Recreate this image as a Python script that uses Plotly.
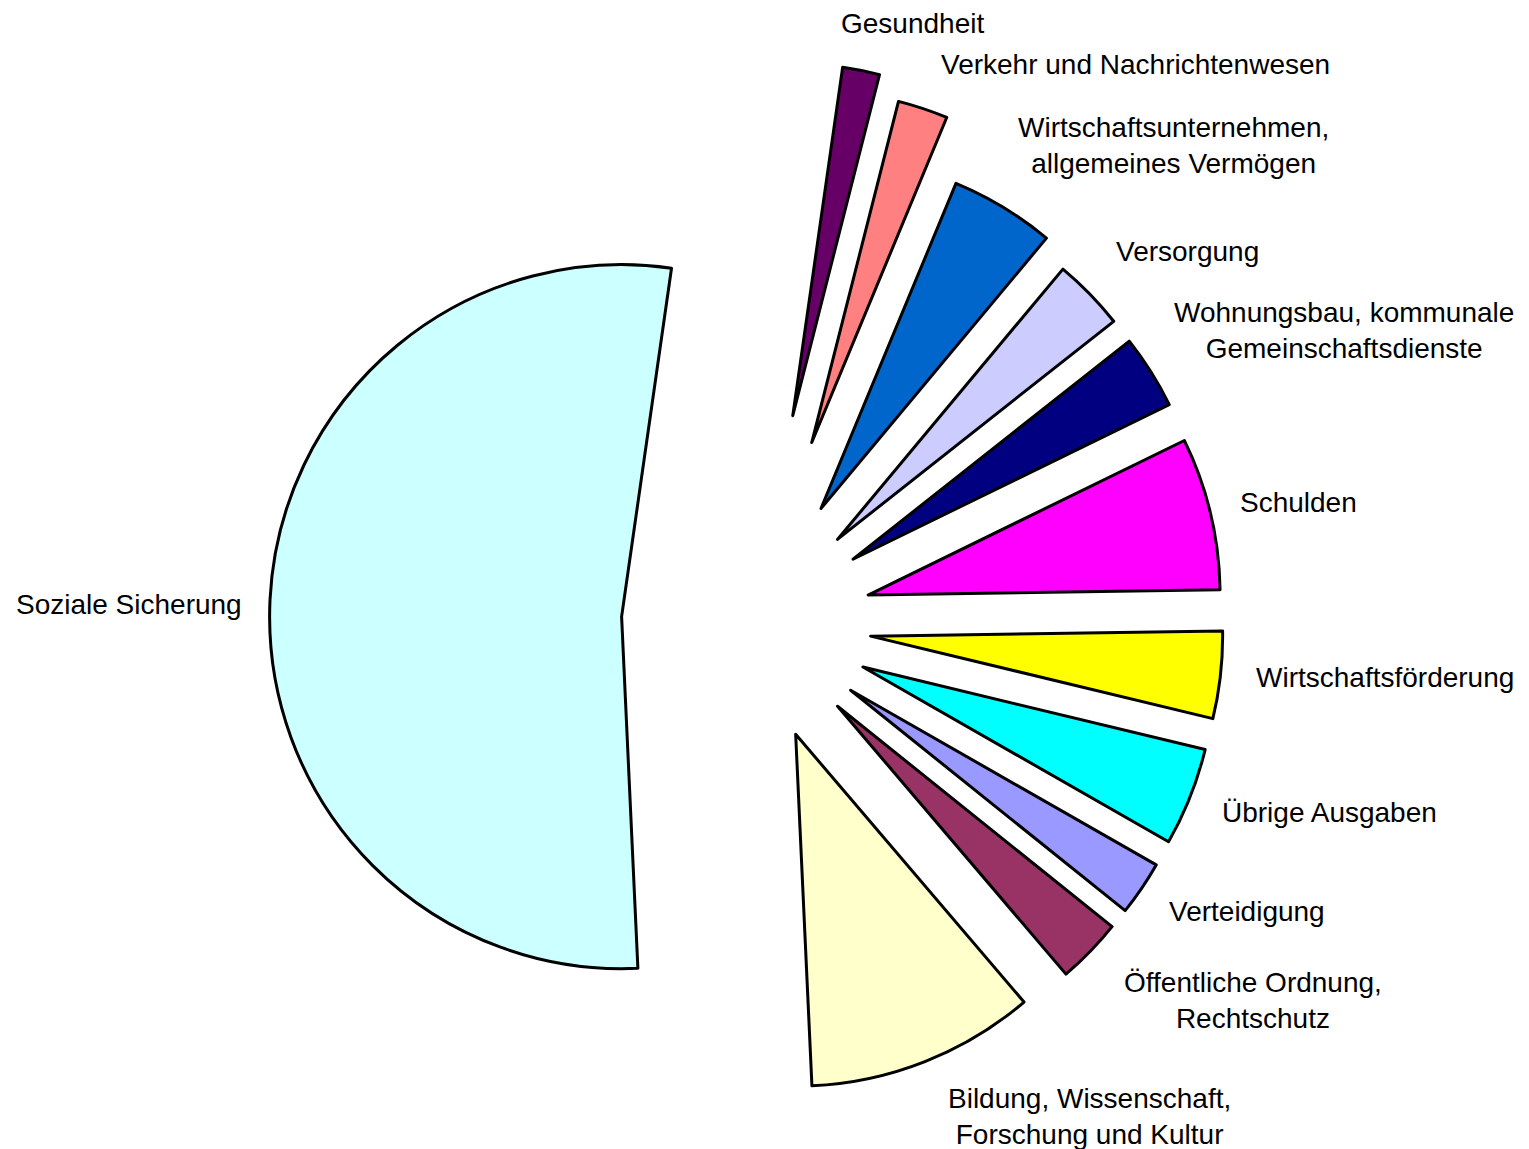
import math
import plotly.graph_objects as go

# ---------------- data ----------------
labels = [
    "Gesundheit",
    "Verkehr und Nachrichtenwesen",
    "Wirtschaftsunternehmen, allgemeines Vermögen",
    "Versorgung",
    "Wohnungsbau, kommunale Gemeinschaftsdienste",
    "Schulden",
    "Wirtschaftsförderung",
    "Übrige Ausgaben",
    "Verteidigung",
    "Öffentliche Ordnung, Rechtschutz",
    "Bildung, Wissenschaft, Forschung und Kultur",
    "Soziale Sicherung",
]
label_lines = [
    "Gesundheit",
    "Verkehr und Nachrichtenwesen",
    "Wirtschaftsunternehmen,<br>allgemeines Vermögen",
    "Versorgung",
    "Wohnungsbau, kommunale<br>Gemeinschaftsdienste",
    "Schulden",
    "Wirtschaftsförderung",
    "Übrige Ausgaben",
    "Verteidigung",
    "Öffentliche Ordnung,<br>Rechtschutz",
    "Bildung, Wissenschaft,<br>Forschung und Kultur",
    "Soziale Sicherung",
]
values = [1.7, 2.3, 4.8, 3.3, 3.4, 7.0, 4.0, 4.5, 2.5, 3.0, 10.5, 53.0]

# ---------------- styles / layout ----------------
colors = ["#660066", "#FF8080", "#0066CC", "#CCCCFF", "#000080", "#FF00FF",
          "#FFFF00", "#00FFFF", "#9999FF", "#993366", "#FFFFCC", "#CCFFFF"]
pulls = [0.60, 0.54, 0.38, 0.34, 0.34, 0.34, 0.34, 0.34, 0.34, 0.34, 0.34, 0.37]
# label text centres in pixels
label_px = [(912, 23), (1135, 65), (1173, 145), (1187, 252), (1344, 330),
            (1298, 502), (1385, 677), (1329, 812), (1247, 911), (1253, 1001),
            (1089, 1116), (129, 604)]

W, H = 1529, 1149
R = 352.0
CX, CY = 751.7, 622.9
ROT = 8.15
LINE_W = 3
FONT = "Liberation Sans, Arial, sans-serif"
FONT_SIZE = 28

total = sum(values)
n = len(values)
bisectors = []
cum = 0.0
for v in values:
    bisectors.append(math.radians(ROT + 360.0 * (cum + v / 2.0) / total))
    cum += v

# slices with large explosion get their own trace (so the pie keeps its size)
groups = [list(range(2, n)), [0], [1]]

fig = go.Figure()
for g in groups:
    if len(g) == 1:
        s = pulls[g[0]]
        b = bisectors[g[0]]
    else:
        s = 0.0
        b = 0.0
    tp = [pulls[i] - s if i in g else 0.0 for i in range(n)]
    maxp = max(tp)
    half = R * (1 + maxp)
    cx = CX + s * R * math.sin(b)
    cy = CY - s * R * math.cos(b)
    fig.add_trace(go.Pie(
        labels=labels,
        values=values,
        sort=False,
        direction="clockwise",
        rotation=ROT,
        pull=tp,
        textinfo="none",
        hoverinfo="label+percent",
        showlegend=False,
        marker=dict(
            colors=[colors[i] if i in g else "rgba(0,0,0,0)" for i in range(n)],
            line=dict(color="black",
                      width=[LINE_W if i in g else 0 for i in range(n)]),
        ),
        domain=dict(
            x=[(cx - half) / W, (cx + half) / W],
            y=[1 - (cy + half) / H, 1 - (cy - half) / H],
        ),
    ))

annotations = []
for txt, (px, py) in zip(label_lines, label_px):
    annotations.append(dict(
        text=txt, x=px / W, y=1 - py / H, xref="paper", yref="paper",
        xanchor="center", yanchor="middle", showarrow=False, align="center",
        font=dict(family=FONT, size=FONT_SIZE, color="black"),
    ))

fig.update_layout(
    width=W, height=H,
    margin=dict(l=0, r=0, t=0, b=0),
    paper_bgcolor="white",
    plot_bgcolor="white",
    annotations=annotations,
    font=dict(family=FONT),
)

fig.write_html("out.html")
